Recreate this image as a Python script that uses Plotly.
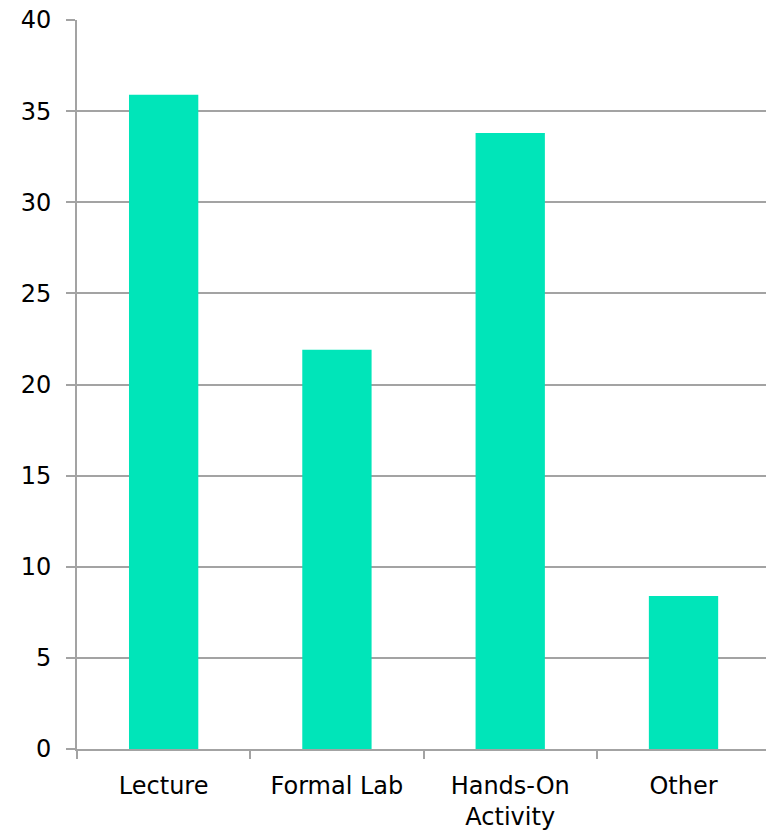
import plotly.graph_objects as go

# Survey results by instruction type
categories = ["Lecture", "Formal Lab", "Hands-On<br>Activity", "Other"]
values = [35.9, 21.9, 33.8, 8.4]
y_ticks = [0, 5, 10, 15, 20, 25, 30, 35, 40]

bar_color = "#00E5B9"
grid_color = "#A3A3A3"
font_family = "DejaVu Sans, Verdana, sans-serif"

fig = go.Figure(
    go.Bar(
        x=categories,
        y=values,
        marker=dict(color=bar_color, line=dict(width=0)),
        width=0.4,
    )
)

fig.update_layout(
    width=766,
    height=830,
    margin=dict(l=77, r=0, t=20, b=81),
    paper_bgcolor="white",
    plot_bgcolor="white",
    showlegend=False,
    font=dict(family=font_family, size=24, color="#000000"),
)

fig.update_xaxes(
    type="category",
    range=[-0.5, 3.476],
    showgrid=False,
    showline=True,
    linecolor=grid_color,
    linewidth=2,
    ticks="outside",
    tickson="boundaries",
    ticklen=8,
    tickwidth=2,
    tickcolor=grid_color,
    ticklabelstandoff=14,
)

fig.update_yaxes(
    range=[0, 40],
    tickvals=y_ticks,
    showgrid=True,
    gridcolor=grid_color,
    gridwidth=2,
    showline=True,
    linecolor=grid_color,
    linewidth=2,
    ticks="outside",
    ticklen=9,
    tickwidth=2,
    tickcolor=grid_color,
    ticklabelstandoff=10,
    zeroline=False,
)

fig.write_html("out.html")
